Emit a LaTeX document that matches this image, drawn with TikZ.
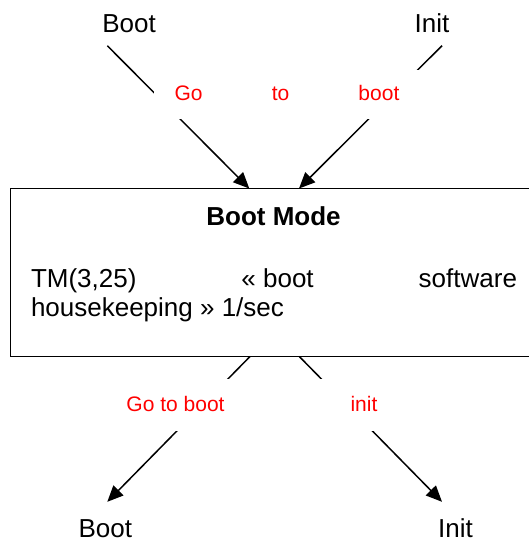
\documentclass[tikz,border=0pt]{standalone}
\usepackage{fontspec}
\setmainfont{Liberation Sans}
\usetikzlibrary{arrows.meta}
\begin{document}
\begin{tikzpicture}[x=1pt,y=-1pt,
  conn/.style={line width=1.5pt,-{Triangle[length=16pt,width=14pt]}},
  statetext/.style={inner sep=0pt,outer sep=0pt,font=\fontsize{26}{30}\selectfont},
  lbl/.style={fill=white,inner sep=0pt,outer sep=0pt,text=red,font=\fontsize{21}{25}\selectfont},
  modebox/.style={draw,line width=1.5pt,inner sep=0pt,outer sep=0pt}]
\clip (0,0) rectangle (529,541);
% main state box
\node[modebox, anchor=north west, minimum width=521pt, minimum height=168pt] (mode) at (10.7,188.5) {};
\node[statetext, anchor=base, font=\fontsize{26}{30}\selectfont\bfseries] (title) at (273.5,225.5) {Boot Mode};
\node[statetext, anchor=base west] (tmA) at (31,287.3) {\hbox to 486pt{TM(3,25)\hfill « boot\hfill software}};
\node[statetext, anchor=base west] (tmB) at (31,316.6) {housekeeping » 1/sec};
% outer state names
\node[statetext, anchor=base] (bootT) at (129,32) {Boot};
\node[statetext, anchor=base] (initT) at (432,32) {Init};
\node[statetext, anchor=base] (bootB) at (105.3,537) {Boot};
\node[statetext, anchor=base] (initB) at (455.5,537) {Init};
% connector end points
\coordinate (s1) at (107.3,45.7);
\coordinate (t1) at (249.3,188.5);
\coordinate (s2) at (442,45.7);
\coordinate (t2) at (299,188.5);
\coordinate (s3) at (250,356.5);
\coordinate (t3) at (107.3,501.8);
\coordinate (s4) at (299.3,356.5);
\coordinate (t4) at (442,501.8);
\draw[conn] (s1) -- (t1);
\draw[conn] (s2) -- (t2);
\draw[conn] (s3) -- (t3);
\draw[conn] (s4) -- (t4);
% labels (white background breaks the connectors)
\node[lbl, minimum width=267pt, minimum height=49pt] (lblT) at (287,94.5)
  {\raisebox{-5.7pt}[0pt][0pt]{\hbox to 224.7pt{Go\hfill to\hfill boot}}};
\node[lbl, minimum width=143pt, minimum height=51.7pt] (lblL) at (175.5,405.2)
  {\raisebox{-5.8pt}[0pt][0pt]{Go to boot}};
\node[lbl, minimum width=92pt, minimum height=51.7pt] (lblR) at (364,405.2)
  {\raisebox{-5.8pt}[0pt][0pt]{init}};
\end{tikzpicture}
\end{document}
